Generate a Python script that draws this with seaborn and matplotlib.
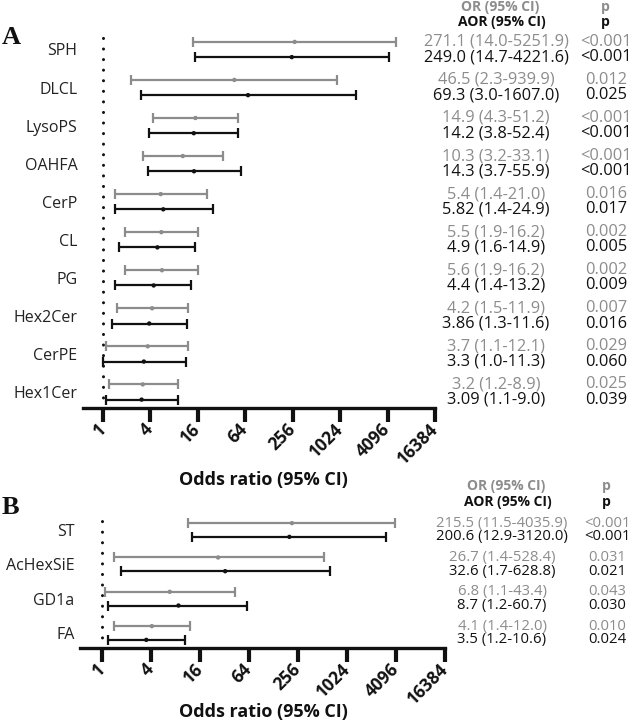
import numpy as np
import pandas as pd
import matplotlib
matplotlib.use("Agg")
import matplotlib.pyplot as plt
import matplotlib.transforms as mtransforms
import seaborn as sns

# ---------------- data ----------------
A_labels = ['SPH', 'DLCL', 'LysoPS', 'OAHFA', 'CerP', 'CL', 'PG', 'Hex2Cer', 'CerPE', 'Hex1Cer']
A_or = [271.1, 46.5, 14.9, 10.3, 5.4, 5.5, 5.6, 4.2, 3.7, 3.2]
A_or_lo = [14.0, 2.3, 4.3, 3.2, 1.4, 1.9, 1.9, 1.5, 1.1, 1.2]
A_or_hi = [5251.9, 939.9, 51.2, 33.1, 21.0, 16.2, 16.2, 11.9, 12.1, 8.9]
A_or_p = ['<0.001', '0.012', '<0.001', '<0.001', '0.016', '0.002', '0.002', '0.007', '0.029', '0.025']
A_aor = [249.0, 69.3, 14.2, 14.3, 5.82, 4.9, 4.4, 3.86, 3.3, 3.09]
A_aor_lo = [14.7, 3.0, 3.8, 3.7, 1.4, 1.6, 1.4, 1.3, 1.0, 1.1]
A_aor_hi = [4221.6, 1607.0, 52.4, 55.9, 24.9, 14.9, 13.2, 11.6, 11.3, 9.0]
A_aor_p = ['<0.001', '0.025', '<0.001', '<0.001', '0.017', '0.005', '0.009', '0.016', '0.060', '0.039']

B_labels = ['ST', 'AcHexSiE', 'GD1a', 'FA']
B_or = [215.5, 26.7, 6.8, 4.1]
B_or_lo = [11.5, 1.4, 1.1, 1.4]
B_or_hi = [4035.9, 528.4, 43.4, 12.0]
B_or_p = ['<0.001', '0.031', '0.043', '0.010']
B_aor = [200.6, 32.6, 8.7, 3.5]
B_aor_lo = [12.9, 1.7, 1.2, 1.2]
B_aor_hi = [3120.0, 628.8, 60.7, 10.6]
B_aor_p = ['<0.001', '0.021', '0.030', '0.024']

tick_vals = [1, 4, 16, 64, 256, 1024, 4096, 16384]
tick_labels = ['1', '4', '16', '64', '256', '1024', '4096', '16384']

GRAY = '#8c8c8c'
BLACK = '#111111'

sns.set_theme(style='white')
FONT = ['Open Sans', 'DejaVu Sans']
plt.rcParams['font.family'] = FONT

W, H = 633, 722
fig = plt.figure(figsize=(W / 100, H / 100), dpi=100)


def fx(px):
    return px / W


def fy(py):
    return 1 - py / H


def panel(rect, labels, orv, orlo, orhi, orp, aorv, aorlo, aorhi, aorp,
          xleft, ylim, text_x, p_x, head_y, letter, letter_xy, title_y, tsize):
    ax = fig.add_axes(rect)
    n = len(labels)
    rows = []
    for i in range(n):
        rows.append(dict(label=labels[i], model='OR', est=orv[i], lo=orlo[i], hi=orhi[i], p=orp[i], y=i - 0.2))
        rows.append(dict(label=labels[i], model='AOR', est=aorv[i], lo=aorlo[i], hi=aorhi[i], p=aorp[i], y=i + 0.2))
    df = pd.DataFrame(rows)
    pal = {'OR': GRAY, 'AOR': BLACK}
    for model, sub in df.groupby('model'):
        ax.errorbar(sub['est'], sub['y'],
                    xerr=[sub['est'] - sub['lo'], sub['hi'] - sub['est']],
                    fmt='none', ecolor=pal[model], elinewidth=1.6,
                    capsize=3.5, capthick=1.6, zorder=2)
    sns.scatterplot(data=df, x='est', y='y', hue='model', palette=pal,
                    legend=False, s=10, edgecolor='none', ax=ax, zorder=3)
    ax.set_xscale('log', base=2)
    ax.set_xlim(xleft, 16384)
    ax.set_ylim(*ylim)
    ax.axvline(1, color=BLACK, lw=2.2, ls=(0, (0.01, 3.45)),
               dash_capstyle='round', zorder=1)
    for s in ['left', 'top', 'right']:
        ax.spines[s].set_visible(False)
    ax.spines['bottom'].set_linewidth(2.4)
    ax.spines['bottom'].set_color(BLACK)
    ax.set_xticks(tick_vals)
    ax.set_xticklabels(tick_labels, rotation=45, ha='right', va='center',
                       rotation_mode='anchor', fontweight='bold', fontsize=12.5,
                       color=BLACK)
    ax.xaxis.set_minor_locator(matplotlib.ticker.NullLocator())
    ax.tick_params(axis='x', direction='out', length=10, width=3, color=BLACK, pad=3,
                   bottom=True)
    ax.set_yticks(range(n))
    ax.set_yticklabels(labels, fontsize=11.5, color='#222222')
    ax.tick_params(axis='y', length=0, pad=4)
    ax.set_xlabel('')
    ax.set_ylabel('')
    ax.grid(False)
    ax.set_facecolor('none')

    tr = mtransforms.blended_transform_factory(fig.transFigure, ax.transData)
    for _, r in df.iterrows():
        c = GRAY if r['model'] == 'OR' else BLACK
        s = f"{r['est']} ({r['lo']}-{r['hi']})"
        ax.text(fx(text_x), r['y'], s, transform=tr, ha='center', va='center',
                fontsize=tsize, color=c, clip_on=False)
        ax.text(fx(p_x), r['y'], r['p'], transform=tr, ha='center', va='center',
                fontsize=tsize, color=c, clip_on=False)
    fig.text(fx(text_x + 4), fy(head_y[0]), 'OR (95% CI)', ha='center', va='center',
             fontsize=10, fontweight='bold', color=GRAY)
    fig.text(fx(text_x + 6), fy(head_y[1]), 'AOR (95% CI)', ha='center', va='center',
             fontsize=10, fontweight='bold', color=BLACK)
    fig.text(fx(p_x - 1), fy(head_y[0]), 'p', ha='center', va='center',
             fontsize=10, fontweight='bold', color=GRAY)
    fig.text(fx(p_x - 1), fy(head_y[1]), 'p', ha='center', va='center',
             fontsize=10, fontweight='bold', color=BLACK)
    fig.text(fx(letter_xy[0]), fy(letter_xy[1]), letter, ha='left', va='center',
             fontsize=19, fontweight='bold', family=['Liberation Serif'], color=BLACK)
    fig.text(fx(263), fy(title_y), 'Odds ratio (95% CI)', ha='center', va='center',
             fontsize=13, fontweight='bold', color=BLACK)
    return ax


pxA = (435 - 103) / 14.0
axA = panel([fx(83), fy(408), fx(435) - fx(83), fy(33) - fy(408)],
            A_labels, A_or, A_or_lo, A_or_hi, A_or_p, A_aor, A_aor_lo, A_aor_hi, A_aor_p,
            2 ** (-20 / pxA), (9 + 16 / 38.06, -16.5 / 38.06),
            496, 606, (7, 22), 'A', (2, 37), 480, 11.8)

pxB = (445 - 102) / 14.0
axB = panel([fx(80), fy(648), fx(445) - fx(80), fy(513) - fy(648)],
            B_labels, B_or, B_or_lo, B_or_hi, B_or_p, B_aor, B_aor_lo, B_aor_hi, B_aor_p,
            2 ** (-22 / pxB), (3 + 15 / 34.33, -17 / 34.33),
            502, 607, (486, 502), 'B', (2, 508), 712, 10.7)

fig.savefig('out.png', dpi=100)
